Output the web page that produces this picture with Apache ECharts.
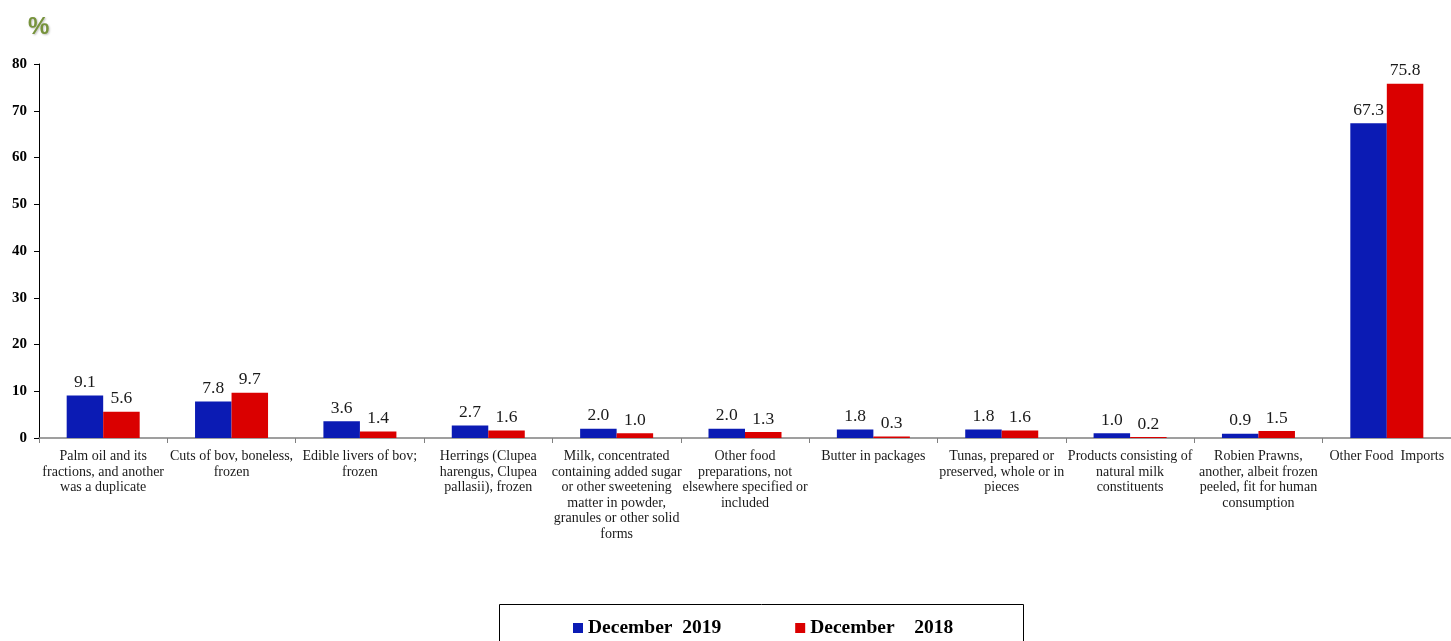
<!DOCTYPE html>
<html><head><meta charset="utf-8">
<script src="https://cdn.jsdelivr.net/npm/echarts@6/dist/echarts.min.js"></script>
<style>html,body{margin:0;padding:0;background:#fff}#c{width:1451px;height:641px}</style>
</head><body><div id="c"></div>
<script>
const categories = [
  "Palm oil and its\nfractions, and another\nwas a duplicate",
  "Cuts of bov, boneless,\nfrozen",
  "Edible livers of bov;\nfrozen",
  "Herrings (Clupea\nharengus, Clupea\npallasii), frozen",
  "Milk, concentrated\ncontaining added sugar\nor other sweetening\nmatter in powder,\ngranules or other solid\nforms",
  "Other food\npreparations, not\nelsewhere specified or\nincluded",
  "Butter in packages",
  "Tunas, prepared or\npreserved, whole or in\npieces",
  "Products consisting of\nnatural milk\nconstituents",
  "Robien Prawns,\nanother, albeit frozen\npeeled, fit for human\nconsumption",
  "Other Food  Imports"
];
const dec2019 = [9.1, 7.8, 3.6, 2.7, 2.0, 2.0, 1.8, 1.8, 1.0, 0.9, 67.3];
const dec2018 = [5.6, 9.7, 1.4, 1.6, 1.0, 1.3, 0.3, 1.6, 0.2, 1.5, 75.8];
const seriesNames = ["December  2019", "December    2018"];
const yTicks = [0, 10, 20, 30, 40, 50, 60, 70, 80];

const font = "'Liberation Serif', 'Times New Roman', serif";
const chart = echarts.init(document.getElementById('c'), null, {renderer: 'canvas'});
const labelCfg = {show: true, position: 'top', distance: 4, color: '#1a1a1a', fontFamily: font, fontSize: 17.5,
  formatter: p => p.value.toFixed(1)};
chart.setOption({
  animation: false,
  textStyle: {fontFamily: font},
  title: {text: '%', left: 23, top: 10, textStyle: {color: '#77933C', fontSize: 24, fontWeight: 'bold', fontFamily: "Arial, 'Liberation Sans', sans-serif",
    textShadowColor: 'rgba(0,0,0,0.25)', textShadowOffsetX: 1, textShadowOffsetY: 1, textShadowBlur: 2}},
  grid: {left: 39, top: 64, width: 1413, height: 374, containLabel: false},
  legend: {left: 573, top: 618, padding: 0, itemWidth: 10, itemHeight: 10, itemGap: 74, icon: 'rect',
    textStyle: {fontFamily: font, fontSize: 19.5, fontWeight: 'bold', color: '#000'}},
  graphic: [{type: 'rect', shape: {x: 499.5, y: 604.5, width: 524, height: 45}, style: {fill: 'none', stroke: '#000', lineWidth: 1}}],
  xAxis: {type: 'category', data: categories,
    axisLine: {lineStyle: {color: '#808080', width: 1.5}},
    axisTick: {show: true, length: 5, lineStyle: {color: '#808080'}},
    axisLabel: {interval: 0, margin: 11, color: '#1a1a1a', fontFamily: font, fontSize: 14, lineHeight: 15.5}},
  yAxis: {type: 'value', min: 0, max: 80, interval: 10,
    axisLine: {show: true, lineStyle: {color: '#000'}},
    axisTick: {show: true, length: 5, lineStyle: {color: '#000'}},
    splitLine: {show: false},
    axisLabel: {margin: 12, color: '#000', fontFamily: font, fontSize: 15, fontWeight: 'bold',
      formatter: v => yTicks.includes(v) ? String(v) : ''}},
  series: [
    {name: seriesNames[0], type: 'bar', data: dec2019, barWidth: 36.5, barGap: '0%',
      itemStyle: {color: '#0B1BB4'}, label: labelCfg},
    {name: seriesNames[1], type: 'bar', data: dec2018, barWidth: 36.5, barGap: '0%',
      itemStyle: {color: '#DA0000'}, label: labelCfg}
  ]
});
</script></body></html>
